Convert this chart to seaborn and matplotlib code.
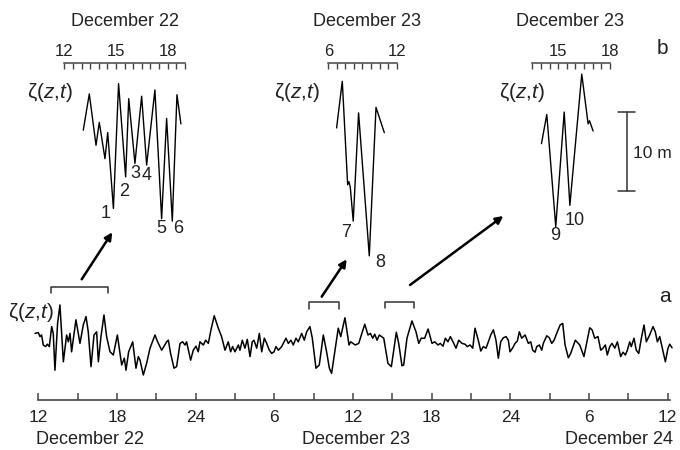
import numpy as np
import matplotlib
matplotlib.use("Agg")
import matplotlib.pyplot as plt
import seaborn as sns

# ---- panel a: sea level, hours counted from December 22 00:00 ----
hours_a = [
    11.75, 12.00, 12.13, 12.25, 12.38, 12.56, 12.69, 12.84, 13.02, 13.14,
    13.27, 13.47, 13.65, 13.91, 14.16, 14.29, 14.42, 14.54, 14.87, 15.18,
    15.43, 15.64, 15.81, 16.02, 16.25, 16.45, 16.58, 16.78, 17.01, 17.21,
    17.47, 17.72, 18.03, 18.36, 18.56, 18.69, 18.89, 19.20, 19.45, 19.63,
    19.76, 20.01, 20.26, 20.52, 20.90, 21.10, 21.41, 21.79, 21.92, 22.09,
    22.35, 22.55, 22.81, 23.01, 23.19, 23.31, 23.62, 23.82, 24.03, 24.20,
    24.33, 24.59, 24.76, 24.97, 25.17, 25.42, 25.73, 25.98, 26.24, 26.49,
    26.67, 26.82, 27.00, 27.26, 27.38, 27.56, 27.76, 27.94, 28.15, 28.32,
    28.45, 28.66, 28.86, 29.04, 29.24, 29.42, 29.62, 29.80, 29.98, 30.13,
    30.31, 30.56, 30.89, 31.07, 31.27, 31.45, 31.65, 31.83, 32.09, 32.29,
    32.47, 32.72, 32.90, 33.18, 33.43, 33.74, 33.99, 34.20, 34.37, 34.63,
    34.88, 35.07, 35.39, 35.70, 35.83, 36.18, 36.44, 36.90, 37.15, 37.33,
    37.51, 37.66, 37.84, 38.01, 38.35, 38.67, 38.93, 39.31, 39.49, 39.74,
    39.87, 40.12, 40.50, 40.81, 41.02, 41.21, 41.47, 41.73, 42.03, 42.24,
    42.49, 42.66, 42.87, 43.05, 43.25, 43.43, 43.69, 43.86, 44.07, 44.32,
    44.55, 44.72, 44.93, 45.14, 45.31, 45.56, 45.75, 45.94, 46.15, 46.33,
    46.51, 46.71, 46.91, 47.09, 47.27, 47.47, 47.68, 47.85, 47.98, 48.19,
    48.36, 48.54, 48.69, 48.87, 49.13, 49.38, 49.56, 49.71, 49.89, 50.02,
    50.22, 50.40, 50.52, 50.78, 50.98, 51.16, 51.34, 51.54, 51.80, 52.00,
    52.18, 52.43, 52.61, 52.96, 53.30, 53.62, 54.06, 54.24, 54.44, 54.69,
    54.90, 55.07, 55.25, 55.40, 55.59, 55.76, 55.97, 56.17, 56.42, 56.60,
    56.78, 56.93, 57.11, 57.23, 57.44, 57.61, 57.80, 58.00, 58.20, 58.38,
    58.63, 58.89, 59.06, 59.22, 59.40, 59.57, 59.83, 60.03, 60.16, 60.34,
]
zeta_a = [
    -0.1, 0.1, -0.9, -0.5, -3.0, -3.4, -2.8, -3.4, 1.6, -0.1,
    -9.3, 2.4, 7.0, -7.2, -0.5, -2.2, -0.1, -4.7, 3.3, -2.6,
    2.0, 4.1, 0.3, -8.4, -0.5, 0.3, -7.2, -0.9, 4.5, -0.9,
    -4.7, -5.5, -0.5, -8.0, -6.3, -9.3, -4.7, -2.2, -8.8, -5.9,
    -6.8, -10.5, -7.6, -3.8, -0.5, -2.2, -4.3, -2.2, -1.8, -5.1,
    -8.8, -8.4, -2.6, -2.2, -3.0, -2.2, -6.8, -4.3, -3.3, -4.7,
    -2.2, -3.0, -1.8, -2.6, 0.8, 4.3, 1.2, -0.9, -4.3, -2.2,
    -4.7, -3.4, -4.7, -3.0, -4.3, -1.8, -3.8, -1.6, -5.9, -2.2,
    -1.8, -3.8, -0.1, -4.7, -1.3, -2.6, -4.3, -5.1, -4.7, -3.4,
    -4.3, -3.4, -1.3, -2.6, -1.8, -3.0, -1.3, -2.2, -0.1, -1.8,
    0.3, 1.6, -1.3, -8.8, -8.0, -0.5, -4.7, -8.8, -10.1, -4.3,
    1.2, -0.9, 3.8, -3.0, -2.2, -3.0, -2.6, 2.2, -0.5, -0.1,
    -1.3, -0.3, -1.8, -0.5, -1.3, -7.6, -8.4, 0.2, -2.6, -8.2,
    -8.0, -1.3, 3.0, 0.3, -2.6, -1.3, -1.3, 1.0, -2.6, -2.2,
    -3.0, -2.6, -3.3, -1.3, -2.2, -0.9, -2.6, -3.8, -1.8, -2.6,
    -2.8, -3.4, -3.0, -3.8, 1.2, -1.8, -4.5, -3.4, -3.8, -2.2,
    -0.5, 0.8, -1.8, -6.3, -2.2, -1.2, -0.9, -1.8, -4.7, -3.7,
    -2.6, -2.0, 0.3, -1.3, -0.5, -2.6, -2.2, -4.3, -4.8, -3.4,
    -3.0, -4.3, -2.6, -0.7, -1.2, -2.6, -1.8, -0.1, 2.0, 2.4,
    -3.0, -6.2, -5.1, -1.8, -3.0, -5.9, 1.3, 0.8, -1.3, -0.9,
    -4.3, -3.8, -3.0, -5.5, -3.4, -2.6, -3.8, -2.2, -5.9, -4.8,
    -5.5, -4.3, -2.2, -3.4, -1.3, -4.3, -5.1, -1.3, 2.0, -2.2,
    -0.5, 1.6, 0.3, -2.2, -0.9, -3.4, -7.2, -3.8, -2.8, -3.7,
]

# ---- panel b: three zoomed fragments (hours of the day, metres) ----
hours_b1 = [13.10, 13.45, 13.84, 14.03, 14.36, 14.52, 14.85, 15.15, 15.56, 15.74,
            16.10, 16.49, 16.78, 17.26, 17.65, 17.94, 18.27, 18.54, 18.77]
zeta_b1 = [2.5, 7.1, 0.6, 3.5, -1.1, 2.2, -7.4, 8.4, -3.4, 6.5,
           -1.7, 6.8, -1.9, 7.6, -8.7, 4.0, -9.0, 7.0, 3.3]
hours_b2 = [6.73, 7.23, 7.70, 7.81, 7.93, 8.19, 8.66, 9.60, 10.19, 10.92]
zeta_b2 = [2.8, 8.7, -4.4, -4.0, -4.7, -9.0, 4.7, -13.4, 5.4, 2.2]
hours_b3 = [14.03, 14.34, 14.86, 15.35, 15.68, 16.37, 16.74, 16.82, 17.03]
zeta_b3 = [0.8, 4.5, -9.7, 4.8, -7.0, 9.6, 3.3, 3.7, 2.4]

# minima numbers: (label, hour, level)
marks_b1 = [("1", 14.42, -8.0), ("2", 15.48, -5.3), ("3", 16.11, -3.0),
            ("4", 16.79, -3.2), ("5", 17.62, -10.0), ("6", 18.59, -10.0)]
marks_b2 = [("7", 7.55, -10.5), ("8", 10.54, -14.2)]
marks_b3 = [("9", 14.82, -10.8), ("10", 15.98, -8.9)]

# fragments marked on panel a (start hour, end hour, top, foot)
brackets = [(12.95, 17.34, 11.6, 9.9), (32.68, 34.97, 7.7, 6.0), (38.44, 40.65, 7.8, 6.2)]

sns.set_theme(style="white")
plt.rcParams["font.family"] = ["Liberation Sans", "DejaVu Sans"]
plt.rcParams["mathtext.fontset"] = "custom"
plt.rcParams["mathtext.rm"] = "Liberation Sans"
plt.rcParams["mathtext.it"] = "Liberation Sans:italic"

W, H = 680, 450
fig = plt.figure(figsize=(6.8, 4.5), dpi=100)
TXT = "#222222"
AX = "#444444"
ZLABEL = "ζ($z$,$t$)"


def px_box(left, top, width, height):
    return [left / W, 1 - (top + height) / H, width / W, height / H]


def fig_text(x, y, s, **kw):
    fig.text(x / W, 1 - y / H, s, color=TXT, **kw)


# ---------------- panel a ----------------
ax = fig.add_axes(px_box(31.75, 295, 642.4, 105))
sns.lineplot(x=hours_a, y=zeta_a, ax=ax, color="black", lw=1.1,
             estimator=None, sort=False)
ax.set_xlim(11.5, 60.5)
ax.set_ylim(-16.75, 9.5)
ax.set_facecolor("none")
for s in ["top", "left", "right"]:
    ax.spines[s].set_visible(False)
ax.spines["bottom"].set_bounds(12, 60.2)
ax.spines["bottom"].set_color(AX)
ax.spines["bottom"].set_linewidth(1.2)
ticks = np.arange(12, 61, 3)
ax.set_xticks(ticks)
ax.set_xticklabels([str(int(t % 24) or 24) if t % 6 == 0 else "" for t in ticks])
ax.tick_params(axis="x", direction="in", length=5, width=1.1, color=AX,
               labelsize=12.5, labelcolor=TXT, pad=7, bottom=True)
ax.set_yticks([])
ax.set_xlabel("")
ax.set_ylabel("")
for a, b, hi, lo in brackets:
    ax.plot([a, a, b, b], [lo, hi, hi, lo], color="#333333", lw=1.1, clip_on=False)

fig_text(36, 440, "December 22", fontsize=13, ha="left", va="center")
fig_text(356, 440, "December 23", fontsize=13, ha="center", va="center")
fig_text(673, 440, "December 24", fontsize=13, ha="right", va="center")
fig_text(31, 313, ZLABEL, fontsize=15, ha="center", va="center")
fig_text(665, 297, "a", fontsize=15, ha="center", va="center")
fig_text(662, 48, "b", fontsize=15, ha="center", va="center")

# ---------------- panel b ----------------
insets = [
    (47.1, 155.0, (11, 20), hours_b1, zeta_b1, marks_b1,
     np.arange(12, 19.01, 0.5), [12, 15, 18], (12, 19), "December 22", 125, 50),
    (311.2, 102.5, (4.5, 13.5), hours_b2, zeta_b2, marks_b2,
     np.arange(6, 12.01, 0.75), [6, 12], (6, 12), "December 23", 367, 297),
    (506.5, 163.6, (12, 21.5), hours_b3, zeta_b3, marks_b3,
     np.arange(13.5, 18.01, 0.5), [15, 18], (13.5, 18), "December 23", 570, 522),
]
for left, width, xlim, hx, zy, marks, tks, lab, bounds, title, tx, zx in insets:
    bx = fig.add_axes(px_box(left, 62.7, width, 207.3))
    sns.lineplot(x=hx, y=zy, ax=bx, color="black", lw=1.0,
                 estimator=None, sort=False)
    bx.set_xlim(*xlim)
    bx.set_ylim(-15.19, 11.05)
    bx.set_facecolor("none")
    for s in ["bottom", "left", "right"]:
        bx.spines[s].set_visible(False)
    bx.spines["top"].set_bounds(*bounds)
    bx.spines["top"].set_color(AX)
    bx.spines["top"].set_linewidth(1.1)
    bx.xaxis.tick_top()
    bx.set_xticks(tks)
    bx.set_xticklabels([str(int(round(t))) if any(abs(t - l) < 1e-6 for l in lab) else ""
                        for t in tks])
    bx.tick_params(axis="x", direction="in", length=4, width=1.0, color=AX,
                   labelsize=12, labelcolor=TXT, pad=3)
    bx.set_yticks([])
    bx.set_xlabel("")
    bx.set_ylabel("")
    for s, mx, my in marks:
        bx.text(mx, my, s, fontsize=13, color=TXT, ha="center", va="center",
                clip_on=False)
    fig_text(tx, 22, title, fontsize=13, ha="center", va="center")
    fig_text(zx, 93, ZLABEL, fontsize=15, ha="center", va="center")

# 10 m scale bar on the last fragment
bx.plot([18.98, 18.98], [4.8, -5.2], color="#333333", lw=1.1, clip_on=False)
bx.plot([18.49, 19.47], [4.8, 4.8], color="#333333", lw=1.1, clip_on=False)
bx.plot([18.49, 19.47], [-5.2, -5.2], color="#333333", lw=1.1, clip_on=False)
bx.text(19.35, -0.4, "10 m", fontsize=12.5, color=TXT, ha="left", va="center")

# arrows from panel a brackets up to fragments
arrows = [((81.7, 279.3), (112.3, 232.3)),
          ((321.7, 296.7), (346.7, 259.3)),
          ((410.0, 285.0), (503.3, 216.0))]
for (x0, y0), (x1, y1) in arrows:
    ax.annotate("", xy=(x1 / W, 1 - y1 / H), xytext=(x0 / W, 1 - y0 / H),
                xycoords="figure fraction", textcoords="figure fraction",
                annotation_clip=False,
                arrowprops=dict(arrowstyle="-|>", color="black", lw=1.8,
                                mutation_scale=11, shrinkA=0, shrinkB=0))

fig.savefig("out.png", dpi=100)
